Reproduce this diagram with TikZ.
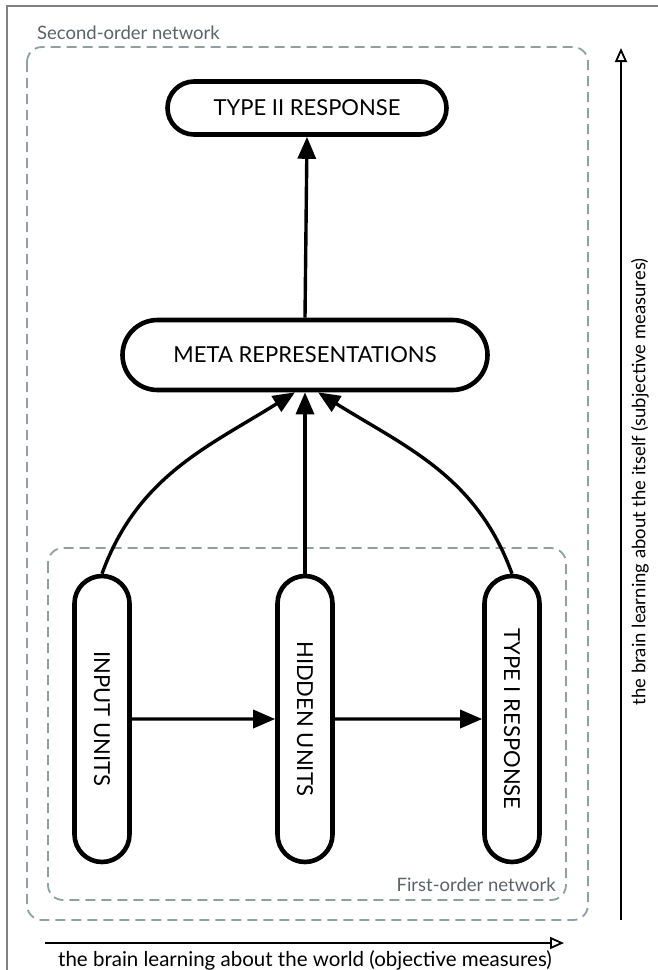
\documentclass[tikz,border=0pt]{standalone}
\usepackage{fontspec}
\setmainfont{Lato}
\usetikzlibrary{shapes.misc,arrows.meta}
\definecolor{dashcol}{RGB}{143,160,165}
\definecolor{labcol}{RGB}{90,100,105}
\tikzset{
  capsule/.style={rounded rectangle, draw=black, line width=4.6pt, fill=white, inner sep=0pt, font=\fontsize{22}{24}\selectfont},
  conn/.style={line width=3.4pt, -{Triangle[length=22pt,width=18pt]}},
  axis/.style={line width=2pt, -{Triangle[open,length=14pt,width=12pt,line width=1.8pt]}},
  grpbox/.style={draw=dashcol, line width=1.8pt, dash pattern=on 10pt off 6pt, rounded corners=15pt},
  grplab/.style={text=labcol, font=\fontsize{18.5}{20}\selectfont, inner sep=0pt},
  axlab/.style={font=\fontsize{18.5}{20}\selectfont, inner sep=0pt}
}
\begin{document}
\begin{tikzpicture}[x=1pt,y=-1pt]
\useasboundingbox (0,0) rectangle (658,970);
\fill[white] (0,0) rectangle (658,970);
\draw[gray, line width=1.2pt] (7,975) -- (7,6) -- (665,6);
% group boxes
\draw[grpbox] (27,47) rectangle (588,920);
\node[grplab, anchor=base west] (lab2) at (37,39) {Second-order network};
\draw[grpbox] (48,548) rectangle (566,900);
\node[grplab, anchor=base east] (lab1) at (556,891) {First-order network};
% nodes
\node[capsule, minimum width=279pt, minimum height=53pt] (t2) at (307,108) {TYPE II RESPONSE};
\node[capsule, minimum width=365pt, minimum height=70pt] (meta) at (305,355) {META REPRESENTATIONS};
\node[capsule, rotate=-90, minimum width=286pt, minimum height=55pt] (in) at (102,719) {INPUT UNITS};
\node[capsule, rotate=-90, minimum width=286pt, minimum height=55pt] (hid) at (305,719) {HIDDEN UNITS};
\node[capsule, rotate=-90, minimum width=286pt, minimum height=55pt] (t1) at (512,719) {TYPE I RESPONSE};
% connectors
\draw[conn] (meta.north) -- (t2.south);
\draw[conn] (in.west) to[out=70,in=-148] ([xshift=-10pt]meta.south);
\draw[conn] (hid.west) -- (meta.south);
\draw[conn] (t1.west) to[out=110,in=-32] ([xshift=13pt]meta.south);
\draw[conn] (in) -- (hid);
\draw[conn] (hid) -- (t1);
% axes
\coordinate (vb) at (621,920);
\coordinate (vt) at (621,48);
\draw[axis] (vb) -- (vt);
\node[axlab, rotate=90] (vlab) at (640,482) {the brain learning about the itself (subjective measures)};
\coordinate (hl) at (45,943);
\coordinate (hr) at (564,943);
\draw[axis] (hl) -- (hr);
\node[axlab, font=\fontsize{20.5}{22}\selectfont] (hlab) at (305,960) {the brain learning about the world (objective measures)};
\end{tikzpicture}
\end{document}
